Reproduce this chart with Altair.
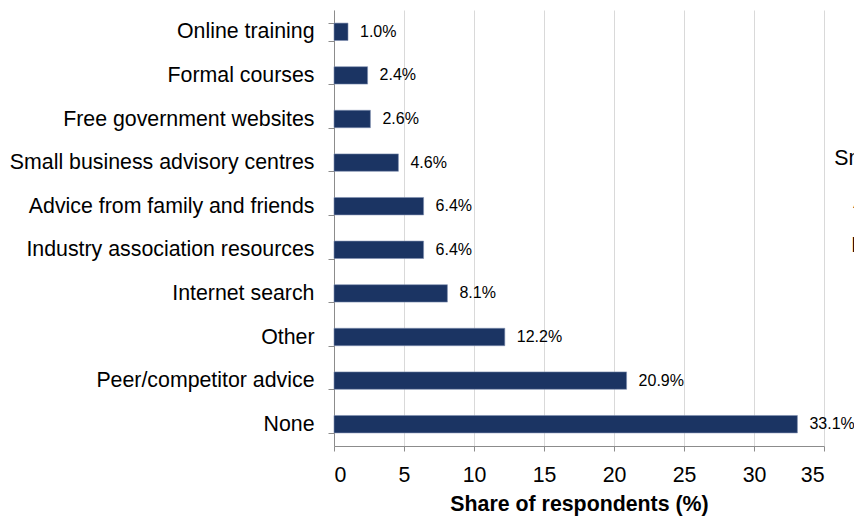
import altair as alt
import pandas as pd

categories = [
    "Online training",
    "Formal courses",
    "Free government websites",
    "Small business advisory centres",
    "Advice from family and friends",
    "Industry association resources",
    "Internet search",
    "Other",
    "Peer/competitor advice",
    "None",
]
shares = [1.0, 2.4, 2.6, 4.6, 6.4, 6.4, 8.1, 12.2, 20.9, 33.1]
x_ticks = [0, 5, 10, 15, 20, 25, 30, 35]
x_title = "Share of respondents (%)"
# category labels whose left edges show as stray fragments at the right edge
stray_rows = [
    "Small business advisory centres",
    "Advice from family and friends",
    "Industry association resources",
]

df = pd.DataFrame({"category": categories, "share": shares})
df["label"] = [f"{v:.1f}%" for v in shares]

FONT = "Liberation Sans, Arial, Helvetica, sans-serif"
AXIS_GRAY = "#8c8c8c"

y_enc = alt.Y(
    "category:N",
    sort=categories,
    scale=alt.Scale(paddingInner=0.6, paddingOuter=0.3),
    axis=alt.Axis(
        title=None,
        labelFontSize=21.33,
        labelColor="black",
        labelFont=FONT,
        labelPadding=14,
        labelLimit=500,
        tickSize=6,
        tickColor=AXIS_GRAY,
        domainColor=AXIS_GRAY,
        tickBand="extent",
        grid=False,
    ),
)

x_enc = alt.X(
    "share:Q",
    scale=alt.Scale(domain=[0, 35], nice=False),
    axis=alt.Axis(
        values=x_ticks,
        title=x_title,
        titleFont=FONT,
        titleFontSize=21.33,
        titleFontWeight="bold",
        titleColor="black",
        titlePadding=8,
        labelFont=FONT,
        labelFontSize=21.33,
        labelColor="black",
        labelPadding=13,
        tickSize=5,
        tickColor=AXIS_GRAY,
        domainColor=AXIS_GRAY,
        grid=True,
        gridColor="#d9d9d9",
        gridWidth=1,
    ),
)

base = alt.Chart(df)

bars = base.mark_bar(color="#1b3463", stroke="#7f8fb0", strokeWidth=0.6).encode(
    x=x_enc, y=y_enc
)

values = base.mark_text(
    align="left", baseline="middle", dx=12, fontSize=16, font=FONT, color="black"
).encode(x="share:Q", y=alt.Y("category:N", sort=categories), text="label:N")

ghost = (
    base.transform_filter(alt.FieldOneOfPredicate(field="category", oneOf=stray_rows))
    .mark_text(
        align="right", baseline="middle", dy=-4, fontSize=21.33, font=FONT, color="black"
    )
    .encode(x=alt.value(805), y=alt.Y("category:N", sort=categories), text="category:N")
)

chart = (
    alt.layer(bars, values, ghost)
    .properties(
        width=490,
        height=436,
        autosize=alt.AutoSizeParams(type="none"),
        padding={"left": 326, "top": 2, "right": 30, "bottom": 71},
    )
    .configure_view(stroke=None)
)

chart.save("out.html", embed_options={"renderer": "svg", "actions": False})
